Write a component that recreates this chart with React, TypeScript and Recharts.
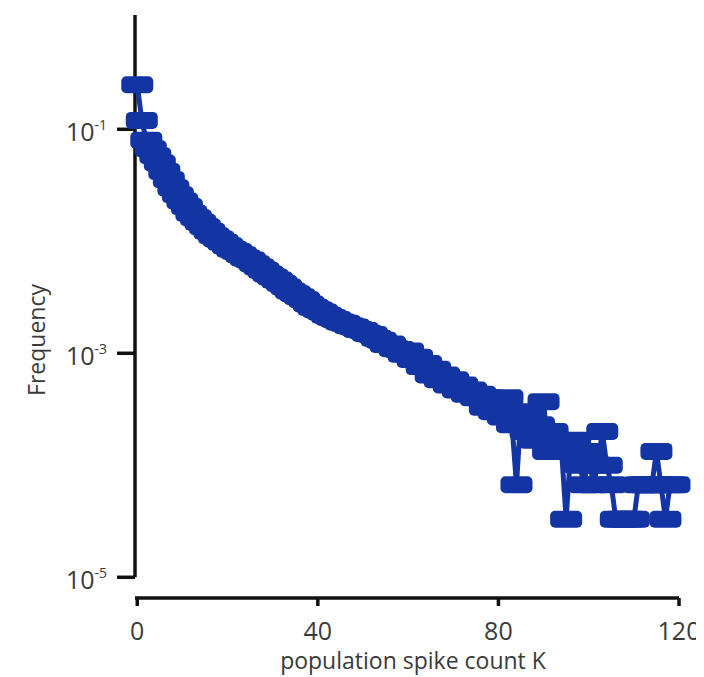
import { LineChart, Line, XAxis, YAxis, ReferenceLine, Label } from "recharts"

// frequency of population spike count K = 0, 1, 2, ...
const frequency = [
  0.25, 0.12, 0.08, 0.067, 0.058, 0.05, 0.042, 0.0355, 0.03, 0.026,
  0.0229, 0.0204, 0.0178, 0.0162, 0.0148, 0.0135, 0.0123, 0.0112, 0.0105, 0.0098,
  0.0091, 0.0085, 0.0081, 0.0076, 0.0071, 0.0068, 0.0063, 0.0059, 0.0055, 0.0051,
  0.0048, 0.0045, 0.0042, 0.0039, 0.0036, 0.0034, 0.0032, 0.003, 0.00275, 0.00257,
  0.00245, 0.00234, 0.00219, 0.00209, 0.002, 0.0019, 0.00185, 0.00176, 0.00172, 0.00163,
  0.0016, 0.0015, 0.00147, 0.00136, 0.00131, 0.0012, 0.00121, 0.0011, 0.00108, 0.00098,
  0.00105, 0.00088, 0.00092, 0.00076, 0.00081, 0.00064, 0.00072, 0.00058, 0.00064, 0.00052,
  0.00058, 0.00047, 0.00052, 0.00043, 0.00047, 0.0004, 0.00043, 0.00033, 0.0004, 0.0003,
  0.00037, 0.00027, 0.0004, 0.00023, 6.7e-5, 0.0003, 0.0002, 0.00027, 0.000167, 0.00023,
  0.00037, 0.000133, 0.0002, 0.000167, 0.000133, 3.3e-5, 0.000133, 0.000167, 0.0001, 6.7e-5,
  0.000133, 6.7e-5, 0.0001, 0.0002, 0.0001, 6.7e-5, 3.3e-5, 3.3e-5, 3.3e-5, 3.3e-5,
  3.3e-5, 6.7e-5, 6.7e-5, 6.7e-5, 6.7e-5, 0.000133, 6.7e-5, 3.3e-5, 6.7e-5, 6.7e-5,
]

const xTicks = [0, 40, 80, 120]
const yTicks = [1e-1, 1e-3, 1e-5]

const data = frequency.map((f, k) => ({ k, f }))

const BLUE = "#1335a3"
const FONT = "'Open Sans', sans-serif"
const TEXT = "#3a3a3a"
const AXIS = "#111"

function Marker(props: any) {
  const { cx, cy } = props
  if (cx == null || cy == null) return null
  return <rect x={cx - 16} y={cy - 8.5} width={32} height={17} rx={5} ry={5} fill={BLUE} />
}

function YTick({ x, y, payload }: any) {
  const exp = Math.round(Math.log10(payload.value))
  return (
    <text x={x} y={y + 12} textAnchor="end" fontSize={25} fill={TEXT} fontFamily={FONT}>
      <tspan>10</tspan>
      <tspan dy={-11} fontSize={14}>{String(exp)}</tspan>
    </text>
  )
}

export default function App() {
  return (
    <LineChart width={696} height={669} data={data} margin={{ top: 7, right: 25, bottom: 0, left: 0 }}>
      <XAxis
        dataKey="k"
        type="number"
        domain={[-0.5, 120]}
        ticks={xTicks}
        interval={0}
        height={79}
        axisLine={{ stroke: AXIS, strokeWidth: 3.5 }}
        tickLine={{ stroke: AXIS, strokeWidth: 3.5 }}
        tickSize={8}
        tickMargin={16}
        tick={{ fontSize: 25, fill: TEXT, fontFamily: FONT }}
      >
        <Label
          content={({ viewBox }: any) => (
            <text
              x={viewBox.x + viewBox.width / 2 + 6}
              y={viewBox.y + 71}
              textAnchor="middle"
              fontSize={23}
              fill={TEXT}
              fontFamily={FONT}
            >
              population spike count K
            </text>
          )}
        />
      </XAxis>
      <YAxis
        scale="log"
        domain={[6.53e-6, 1.048]}
        ticks={yTicks}
        interval={0}
        width={127}
        axisLine={false}
        tickLine={{ stroke: AXIS, strokeWidth: 3.5 }}
        tickSize={18}
        tickMargin={10}
        tick={<YTick />}
      >
        <Label
          content={({ viewBox }: any) => {
            const lx = viewBox.x + 37
            const ly = viewBox.y + 325
            return (
              <text
                x={lx}
                y={ly}
                transform={`rotate(-90 ${lx} ${ly})`}
                textAnchor="middle"
                fontSize={23}
                fill={TEXT}
                fontFamily={FONT}
              >
                Frequency
              </text>
            )
          }}
        />
      </YAxis>
      <ReferenceLine
        segment={[
          { x: -0.5, y: 1e-5 },
          { x: -0.5, y: 1.048 },
        ]}
        stroke={AXIS}
        strokeWidth={3.5}
      />
      <Line
        dataKey="f"
        type="linear"
        stroke={BLUE}
        strokeWidth={5}
        dot={<Marker />}
        activeDot={false}
        isAnimationActive={false}
      />
    </LineChart>
  )
}
